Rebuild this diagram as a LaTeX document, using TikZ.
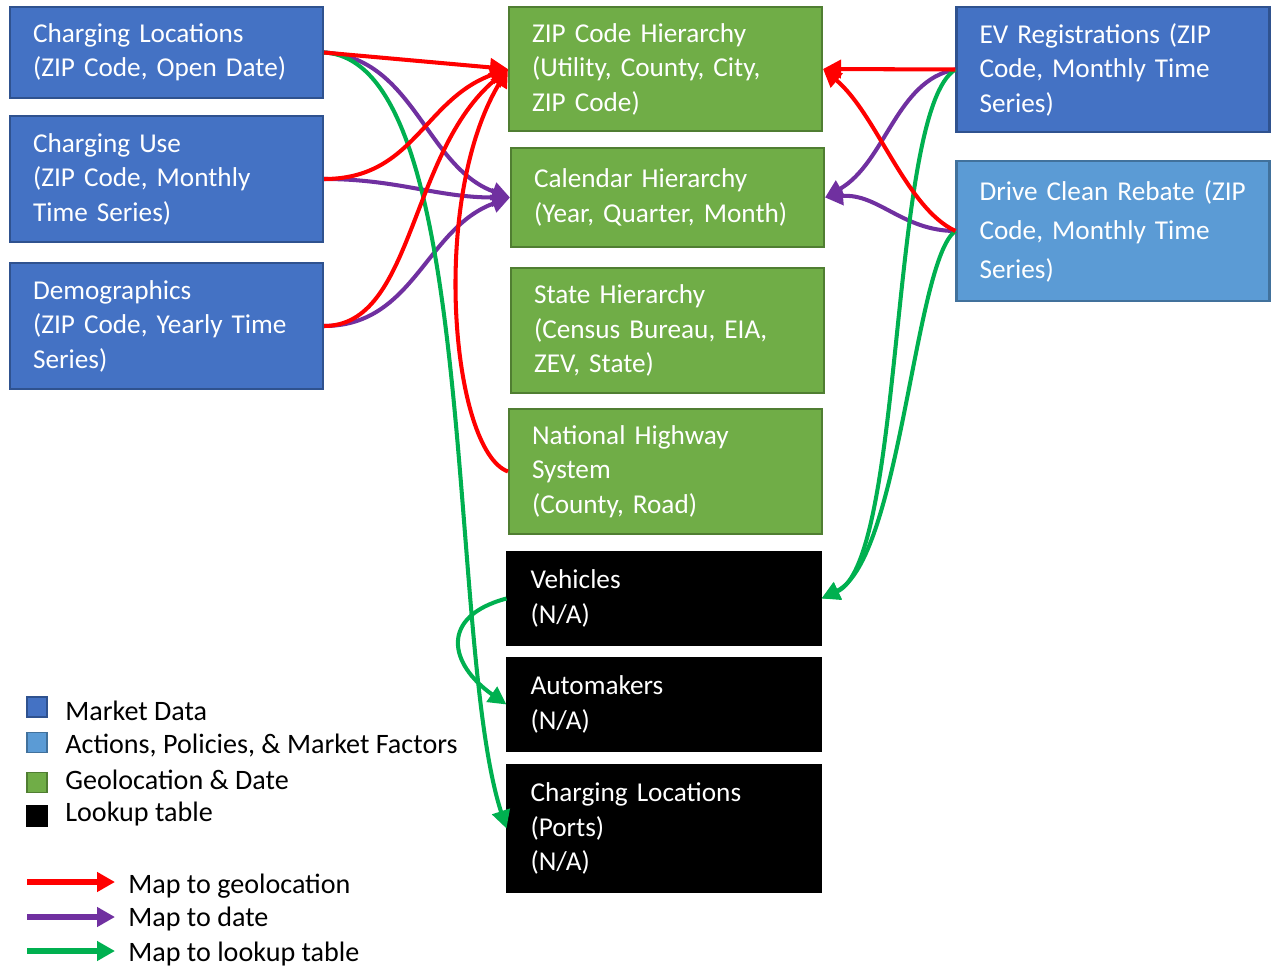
\documentclass[tikz,border=0pt]{standalone}
\usepackage{fontspec}
\setmainfont{Carlito}
\usepackage{tikz}
\usetikzlibrary{arrows.meta}
\definecolor{mktblue}{HTML}{4472C4}
\definecolor{mktline}{HTML}{2F528F}
\definecolor{actblue}{HTML}{5B9BD5}
\definecolor{actline}{HTML}{41719C}
\definecolor{geogreen}{HTML}{70AD47}
\definecolor{geoline}{HTML}{507E32}
\definecolor{geored}{HTML}{FF0000}
\definecolor{datepurple}{HTML}{7030A0}
\definecolor{lookgreen}{HTML}{00B050}

\begin{document}
\begin{tikzpicture}[
  x=0.02cm,y=-0.02cm,
  every node/.style={font=\fontsize{16pt}{19.4pt}\selectfont},
  tbl/.style={line width=1.2pt,text=white,align=left,
    font=\fontsize{15.5pt}{19.6pt}\selectfont,
    text width=5.34cm,inner xsep=0.46cm,inner ysep=0pt},
  market/.style={tbl,fill=mktblue,draw=mktline},
  action/.style={tbl,fill=actblue,draw=actline,
    font=\fontsize{15.5pt}{22.2pt}\selectfont},
  geo/.style={tbl,fill=geogreen,draw=geoline},
  lookup/.style={tbl,fill=black,draw=black},
  legkey/.style={minimum size=0.4cm,inner sep=0pt,line width=1pt},
  legtext/.style={anchor=west,inner sep=0pt},
  link/.style={line width=2.3pt,-{Triangle[length=0.36cm,width=0.36cm]}},
  togeo/.style={link,draw=geored},
  todate/.style={link,draw=datepurple},
  tolook/.style={link,draw=lookgreen},
  legarrow/.style={line width=3pt,-{Triangle[length=0.36cm,width=0.38cm]}}
]
  \useasboundingbox (0,0) rectangle (1272,970);

  % market data
  \node[market,minimum height=1.82cm] (cl) at (166.5,52.5)
    {Charging Locations\\(ZIP Code, Open Date)};
  \node[market,minimum height=2.52cm] (cu) at (166.5,179)
    {Charging Use\\(ZIP Code, Monthly\\Time Series)};
  \node[market,minimum height=2.52cm] (demo) at (166.5,326)
    {Demographics\\(ZIP Code, Yearly Time\\Series)};
  \node[market,minimum height=2.5cm] (evr) at (1113,69.5)
    {EV Registrations (ZIP\\Code, Monthly Time\\Series)};
  \node[action,minimum height=2.8cm] (dcr) at (1113,231)
    {\mbox{Drive Clean Rebate (ZIP}\\Code, Monthly Time\\Series)};

  % geolocation & date
  \node[geo,minimum height=2.48cm] (zip) at (665.5,69)
    {ZIP Code Hierarchy\\(Utility, County, City,\\ZIP Code)};
  \node[geo,minimum height=1.98cm] (cal) at (667.5,197.5)
    {Calendar Hierarchy\\(Year, Quarter, Month)};
  \node[geo,minimum height=2.5cm] (state) at (667.5,330.5)
    {State Hierarchy\\(Census Bureau, EIA,\\ZEV, State)};
  \node[geo,minimum height=2.5cm] (nhs) at (665.5,471.5)
    {National Highway\\System\\(County, Road)};

  % lookup tables
  \node[lookup,minimum height=1.86cm] (veh) at (664,598.5)
    {Vehicles\\(N/A)};
  \node[lookup,minimum height=1.86cm] (auto) at (664,704.5)
    {Automakers\\(N/A)};
  \node[lookup,minimum height=2.54cm] (clp) at (664,828.5)
    {Charging Locations\\(Ports)\\(N/A)};

  % map to date
  \draw[todate] (cl.east) to[out=-3,in=160,out distance=1.8cm,in distance=1.8cm] (cal.west);
  \draw[todate] (cu.east) to[out=0,in=180] (cal.west);
  \draw[todate] (demo.east) to[out=0,in=200,out distance=1.8cm,in distance=1.8cm] (cal.west);
  \draw[todate] (evr.west) to[out=190,in=30,out distance=1.2cm,in distance=1.4cm] (cal.east);
  \draw[todate] (dcr.west) to[out=180,in=5] (cal.east);

  % map to lookup table
  \draw[tolook] (cl.east) to[out=-3,in=108,out distance=3.14cm,in distance=3.9cm] (clp.west);
  \draw[tolook] (veh.west) to[out=195,in=145,out distance=1.4cm,in distance=1.4cm] (auto.west);
  \draw[tolook] (evr.west) to[out=211,in=24,out distance=1.56cm,in distance=1.84cm] (veh.east);
  \draw[tolook] (dcr.west) to[out=215,in=26,out distance=1cm,in distance=1.76cm] (veh.east);

  % map to geolocation
  \draw[togeo] (cl.east) -- (zip.west);
  \draw[togeo] (cu.east) to[out=0,in=200,out distance=1.8cm,in distance=1.8cm] (zip.west);
  \draw[togeo] (demo.east) to[out=0,in=220,out distance=1.8cm,in distance=2.6cm] (zip.west);
  \draw[togeo] (nhs.west) to[out=160,in=239,out distance=1.2cm,in distance=3.06cm] (zip.west);
  \draw[togeo] (evr.west) -- (zip.east);
  \draw[togeo] (dcr.west) to[out=155,in=-40,out distance=1.1cm,in distance=1.4cm] (zip.east);

  % legend
  \node[legkey,fill=mktblue,draw=mktline] (keymkt) at (37,707) {};
  \node[legkey,fill=actblue,draw=actline] (keyact) at (37,742.5) {};
  \node[legkey,fill=geogreen,draw=geoline] (keygeo) at (37,782.5) {};
  \node[legkey,fill=black,draw=black] (keylook) at (37,816) {};
  \node[legtext] (txtmkt) at (65,711) {Market Data};
  \node[legtext] (txtact) at (65,746) {Actions, Policies, \& Market Factors};
  \node[legtext] (txtgeo) at (65,780) {Geolocation \& Date};
  \node[legtext] (txtlook) at (65,814) {Lookup table};

  \coordinate (geoS) at (27,882);
  \coordinate (geoE) at (115,882);
  \coordinate (dateS) at (27,917);
  \coordinate (dateE) at (115,917);
  \coordinate (lookS) at (27,951);
  \coordinate (lookE) at (115,951);
  \draw[legarrow,geored] (geoS) -- (geoE);
  \draw[legarrow,datepurple] (dateS) -- (dateE);
  \draw[legarrow,lookgreen] (lookS) -- (lookE);
  \node[legtext] (mapgeo) at (128,886) {Map to geolocation};
  \node[legtext] (mapdate) at (128,919) {Map to date};
  \node[legtext] (maplook) at (128,954) {Map to lookup table};
\end{tikzpicture}
\end{document}
